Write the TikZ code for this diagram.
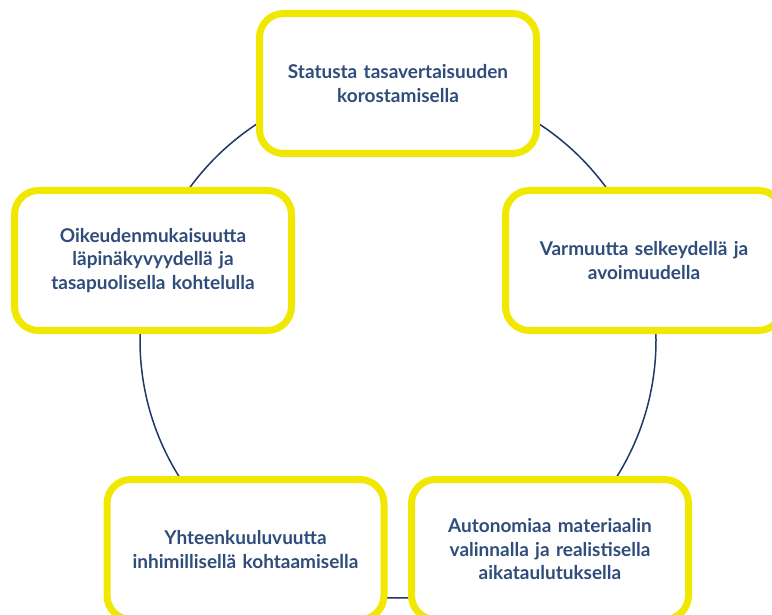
\documentclass[tikz,border=0pt]{standalone}
\usepackage{fontspec}
\setmainfont{Lato}
\definecolor{boxyellow}{RGB}{240,232,0}
\definecolor{txtblue}{RGB}{46,77,123}
\definecolor{linblue}{RGB}{31,56,100}
\begin{document}
\begin{tikzpicture}[x=1pt,y=1pt,
  cyclebox/.style={draw=boxyellow, line width=7pt, fill=white, rounded corners=24pt,
    minimum width=277pt, minimum height=140pt, align=center, text width=265pt,
    font=\fontsize{19}{23.5}\selectfont\bfseries, text=txtblue}]
\useasboundingbox (0,0) rectangle (772,-615);
\clip (0,0) rectangle (772,-615);
\coordinate (c) at (398,-340);
\draw[linblue, line width=1.5pt] (c) circle (258);
\node[cyclebox] (top) at (398,-83.5) {Statusta tasavertaisuuden\\korostamisella};
\node[cyclebox] (right) at (644,-260.5) {Varmuutta selkeydellä ja\\avoimuudella};
\node[cyclebox] (bright) at (550,-549.5) {Autonomiaa materiaalin\\valinnalla ja realistisella\\aikataulutuksella};
\node[cyclebox] (bleft) at (245.5,-549.5) {Yhteenkuuluvuutta\\inhimillisellä kohtaamisella};
\node[cyclebox] (left) at (153,-260.5) {Oikeudenmukaisuutta\\läpinäkyvyydellä ja\\tasapuolisella kohtelulla};
\end{tikzpicture}
\end{document}
